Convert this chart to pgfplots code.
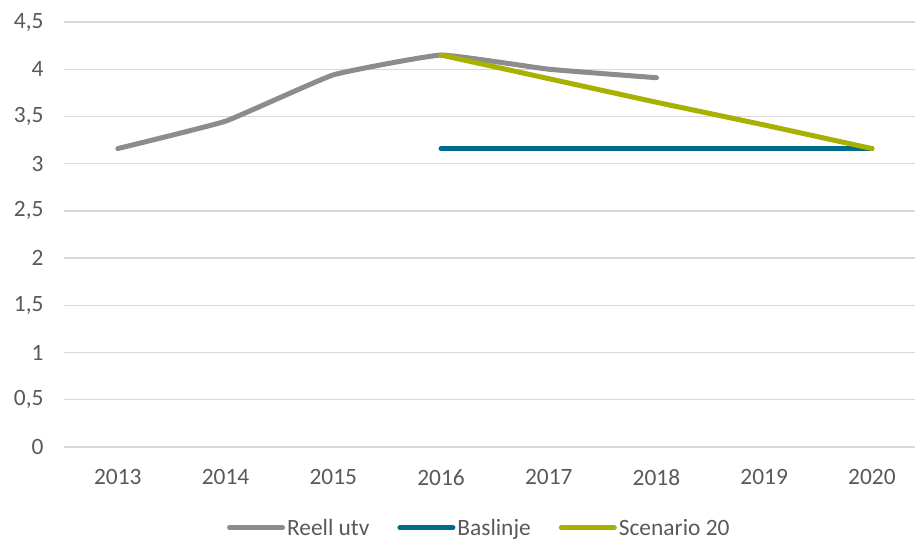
\documentclass[border=0pt]{standalone}
\usepackage{pgfplots}
\pgfplotsset{compat=1.18}
\usepackage{fontspec}
\setmainfont{Carlito}
\definecolor{txt}{HTML}{595959}
\definecolor{grd}{HTML}{D9D9D9}
\definecolor{cgray}{HTML}{8C8C8C}
\definecolor{cteal}{HTML}{006A8E}
\definecolor{colive}{HTML}{A8B000}
\begin{document}
\begin{tikzpicture}
\useasboundingbox (-64bp,-100bp) rectangle (851bp,447bp);
\begin{axis}[
  scale only axis, width=851bp, height=425bp,
  xmin=-0.5, xmax=7.40, ymin=0, ymax=4.5,
  xtick={0,...,7},
  xticklabels={2013,2014,2015,2016,2017,2018,2019,2020},
  ytick={0,0.5,...,4.5},
  /pgf/number format/.cd, use comma, fixed, assume math mode=true,
  /pgfplots/.cd,
  axis y line*=left, axis x line*=bottom,
  y axis line style={draw=none},
  x axis line style={grd, line width=1.3bp, -},
  ymajorgrids, grid style={grd, line width=1.3bp},
  major tick length=0pt,
  tick label style={font=\fontsize{23.5}{27}\selectfont, text=txt},
  yticklabel style={anchor=east, xshift=-17bp},
  xticklabel style={yshift=-19bp},
  clip=false,
  legend style={at={(0.488,-0.19)}, anchor=center, draw=none, fill=none,
    font=\fontsize{23.5}{27}\selectfont, text=txt, /tikz/every even column/.append style={column sep=26bp},
    legend columns=-1, inner sep=0pt, nodes={inner sep=2bp}},
  legend image code/.code={\draw[#1, line cap=round] (0bp,0bp) -- (53bp,0bp);},
  legend cell align=left,
]
\addplot+[no marks, cgray, line width=5bp, smooth, tension=0.2, line cap=round, line join=round] coordinates {
(0,3.16) (1,3.45) (2,3.94) (3,4.15) (4,4.00) (5,3.91)};
\addlegendentry{Reell utv}
\addplot+[no marks, cteal, line width=5bp, line cap=round] coordinates {
(3,3.16) (4,3.16) (5,3.16) (6,3.16) (7,3.16)};
\addlegendentry{Baslinje}
\addplot+[no marks, colive, line width=5bp, line cap=round, line join=round] coordinates {
(3,4.15) (4,3.90) (5,3.65) (6,3.41) (7,3.16)};
\addlegendentry{Scenario 20}
\end{axis}
\end{tikzpicture}
\end{document}
